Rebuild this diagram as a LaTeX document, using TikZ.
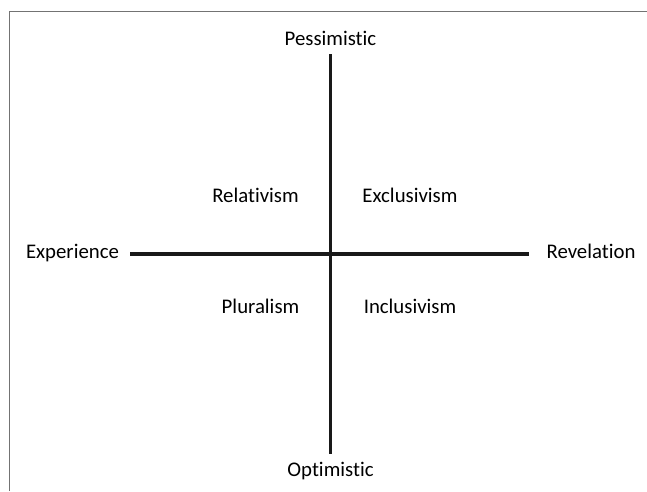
\documentclass[tikz,border=0pt]{standalone}
\usepackage{fontspec}
\setmainfont[Ligatures={NoCommon}]{Carlito}
\begin{document}
\begin{tikzpicture}[x=1pt,y=-1pt,
  lbl/.style={anchor=base,inner sep=0pt,font=\fontsize{20.8}{24}\selectfont},
  axis/.style={line width=3.2pt,black!90},
  frame/.style={line width=1.6pt,black!55}]
\useasboundingbox (0,0) rectangle (647,491);
\draw[frame] (9.5,491) -- (9.5,11.5) -- (647,11.5);
\coordinate (L) at (130,254);
\coordinate (R) at (529,254);
\coordinate (T) at (330.5,54);
\coordinate (B) at (330.5,454);
\draw[axis] (L) -- (R);
\draw[axis] (T) -- (B);
\node[lbl] (pes) at (330.5,45) {Pessimistic};
\node[lbl] (opt) at (330.5,476.5) {Optimistic};
\node[lbl] (exp) at (72.5,258) {Experience};
\node[lbl] (rev) at (591,258) {Revelation};
\node[lbl] (rel) at (255.5,202) {Relativism};
\node[lbl] (exc) at (410,202) {Exclusivism};
\node[lbl] (plu) at (260.5,313) {Pluralism};
\node[lbl] (inc) at (410,313) {Inclusivism};
\end{tikzpicture}
\end{document}
